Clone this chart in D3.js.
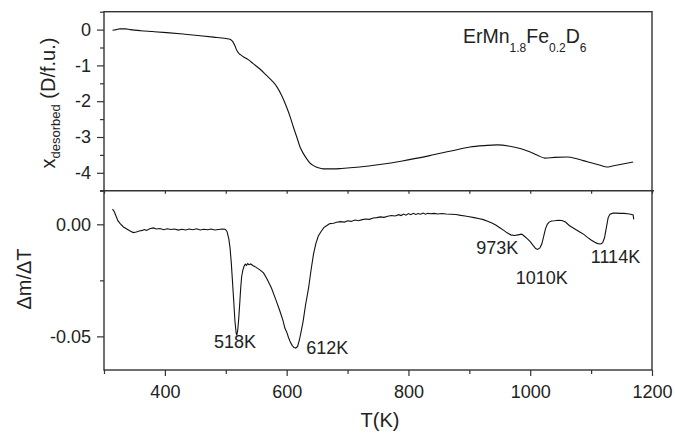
<!DOCTYPE html>
<html>
<head>
<meta charset="utf-8">
<script src="https://cdn.jsdelivr.net/npm/d3@7"></script>
<style>
  body { margin: 0; background: #fff; }
  svg { font-family: "Liberation Sans", Arial, sans-serif; }
</style>
</head>
<body>
<div id="chart"></div>
<script>
// temperature (K) and desorbed deuterium x (D/f.u.) for the upper TG panel
var tgT = [314, 320, 326, 335, 343, 360, 380, 403, 430, 458, 480, 500, 507, 510, 512, 515, 518, 521, 524, 530,
  537, 545, 556, 567, 576, 584, 592, 600, 606, 611, 617, 622, 627, 633, 638, 644, 652, 660, 675, 690,
  720, 753, 790, 835, 870, 901, 925, 945, 967, 985, 1000, 1012, 1024, 1040, 1060, 1075, 1087, 1100, 1115, 1126,
  1135, 1150, 1169];
var tgX = [-0.02, 0.0, 0.02, 0.02, 0.0, -0.03, -0.055, -0.085, -0.125, -0.17, -0.21, -0.25, -0.27, -0.31, -0.35, -0.45, -0.58, -0.66, -0.70, -0.77,
  -0.84, -0.95, -1.10, -1.28, -1.43, -1.60, -1.85, -2.17, -2.45, -2.72, -3.02, -3.28, -3.45, -3.61, -3.72, -3.80, -3.86, -3.89, -3.89, -3.88,
  -3.84, -3.77, -3.67, -3.52, -3.39, -3.28, -3.24, -3.22, -3.26, -3.33, -3.42, -3.51, -3.59, -3.57, -3.56, -3.60, -3.66, -3.72, -3.79, -3.84,
  -3.81, -3.76, -3.70];

// temperature (K) and dm/dT for the lower DTG panel
var dtgT = [314, 317, 320, 323, 327, 332, 338, 343, 348, 353, 358, 363, 366, 370, 375, 381, 386, 392, 398, 404,
  410, 416, 422, 428, 434, 440, 446, 452, 458, 464, 470, 476, 482, 488, 494, 499, 502, 505, 507, 509,
  511, 513, 515, 517, 518, 519.5, 521, 523, 524.5, 526, 528, 530, 532, 534, 536, 538, 541, 545, 550, 556,
  562, 568, 575, 582, 589, 594, 597, 600, 603, 606, 609, 612, 615, 618, 621, 624, 627, 631, 636, 640,
  644, 648, 652, 656, 661, 666, 671, 677, 682, 688, 695, 700, 706, 712, 718, 724, 730, 736, 742, 748,
  754, 760, 766, 772, 778, 784, 788, 792, 796, 800, 804, 808, 812, 816, 820, 824, 828, 832, 836, 842,
  848, 855, 862, 870, 878, 886, 893, 900, 908, 915, 923, 930, 937, 944, 950, 956, 962, 968, 974, 980,
  986, 990, 995, 1000, 1005, 1009, 1012, 1016, 1019, 1022, 1025, 1028, 1031, 1035, 1040, 1046, 1052, 1058, 1064, 1070,
  1076, 1082, 1088, 1094, 1100, 1106, 1111, 1116, 1119, 1122, 1124, 1126, 1128, 1131, 1136, 1142, 1148, 1154, 1160, 1165,
  1169, 1170];
var dtgV = [0.0068, 0.0056, 0.0035, 0.0015, 0.0002, -0.0012, -0.0022, -0.0030, -0.0037, -0.0034, -0.0030, -0.0027, -0.0023, -0.0027, -0.0020, -0.0016, -0.0021, -0.0019, -0.0024, -0.0020,
  -0.0023, -0.0021, -0.0026, -0.0022, -0.0025, -0.0021, -0.0024, -0.0020, -0.0025, -0.0022, -0.0024, -0.0021, -0.0025, -0.0023, -0.0021, -0.0022, -0.0032, -0.0065, -0.0105, -0.0170,
  -0.0254, -0.0340, -0.0430, -0.0485, -0.0496, -0.0475, -0.0430, -0.0350, -0.0284, -0.0235, -0.0205, -0.0187, -0.0178, -0.0183, -0.0175, -0.0180, -0.0177, -0.0185, -0.0192, -0.0203,
  -0.0217, -0.0245, -0.0284, -0.0335, -0.0388, -0.0430, -0.0463, -0.0480, -0.0505, -0.0525, -0.0540, -0.0550, -0.0552, -0.0545, -0.0515, -0.0475, -0.0433, -0.0360, -0.0284, -0.0205,
  -0.0134, -0.0085, -0.0052, -0.0034, -0.0015, -0.0005, 0.0003, 0.0005, 0.0009, 0.0012, 0.0010, 0.0016, 0.0013, 0.0019, 0.0016, 0.0021, 0.0024, 0.0022, 0.0028, 0.0030,
  0.0033, 0.0031, 0.0036, 0.0039, 0.0037, 0.0043, 0.0039, 0.0046, 0.0041, 0.0048, 0.0043, 0.0049, 0.0044, 0.0048, 0.0045, 0.0050, 0.0045, 0.0049, 0.0047, 0.0049,
  0.0046, 0.0048, 0.0046, 0.0045, 0.0044, 0.0040, 0.0037, 0.0034, 0.0030, 0.0026, 0.0021, 0.0014, 0.0006, -0.0004, -0.0015, -0.0026, -0.0038, -0.0047, -0.0050, -0.0047,
  -0.0044, -0.0052, -0.0064, -0.0077, -0.0095, -0.0108, -0.0112, -0.0105, -0.0088, -0.0055, -0.0020, 0.0000, 0.0010, 0.0015, 0.0016, 0.0018, 0.0017, 0.0010, -0.0005, -0.0015,
  -0.0025, -0.0035, -0.0045, -0.0058, -0.0070, -0.0080, -0.0086, -0.0088, -0.0082, -0.0060, -0.0030, 0.0000, 0.0030, 0.0045, 0.0050, 0.0050, 0.0049, 0.0049, 0.0047, 0.0045,
  0.0042, 0.0022];

// peak labels: text, temperature and value where the label sits
var peakText = ["518K", "612K", "973K", "1010K", "1114K"];
var peakT = [515, 632, 946, 1019, 1140];
var peakV = [-0.0554, -0.058, -0.0132, -0.0266, -0.0172];

var xTicks = [400, 600, 800, 1000, 1200];
var xMinor = [300, 500, 700, 900, 1100];
var tgTicks = [0, -1, -2, -3, -4];
var tgMinor = [0.5, -0.5, -1.5, -2.5, -3.5, -4.5];
var dtgTicks = [0, -0.05];
var dtgMinor = [-0.025];

var width = 675, height = 433;
var padL = 104, padR = 652, padT = 11.7, padM = 190.7, padB = 370;

var svg = d3.select("#chart").append("svg")
  .attr("width", width)
  .attr("height", height);

var x = d3.scaleLinear().domain([300, 1200]).range([padL, padR]);
var yTop = d3.scaleLinear().domain([-4.5, 0.5]).range([padM, padT]);
var yBot = d3.scaleLinear().domain([-0.065, 0.015]).range([padB, padM]);

var axisColor = "#333";

// plain hyphen minus like the original
function fmt(spec) {
  var f = d3.format(spec);
  return function(d) { return f(d).replace("\u2212", "-"); };
}

// minor ticks first, then major axes
function minorAxis(axis, sel) {
  sel.call(axis).call(function(g) {
    g.select(".domain").remove();
    g.selectAll("text").remove();
    g.selectAll("line").attr("stroke", axisColor).attr("stroke-width", 1.2);
  });
}
function styleAxis(g) {
  g.select(".domain").remove();
  g.selectAll("line").attr("stroke", axisColor).attr("stroke-width", 1.2);
  g.selectAll("text").attr("font-size", "18px").attr("fill", "#222")
    .attr("font-family", "'Liberation Sans', Arial, sans-serif");
}

// bottom x axis
minorAxis(d3.axisBottom(x).tickValues(xMinor).tickSize(4).tickSizeOuter(0),
  svg.append("g").attr("transform", "translate(0," + padB + ")"));
svg.append("g")
  .attr("transform", "translate(0," + padB + ")")
  .call(d3.axisBottom(x).tickValues(xTicks).tickSize(6).tickPadding(9).tickSizeOuter(0)
    .tickFormat(fmt("d")))
  .call(styleAxis);

// small ticks under the divider
minorAxis(d3.axisBottom(x).tickValues(xTicks.concat(xMinor)).tickSize(3).tickSizeOuter(0),
  svg.append("g").attr("transform", "translate(0," + padM + ")"));

// top y axis
minorAxis(d3.axisLeft(yTop).tickValues(tgMinor).tickSize(4).tickSizeOuter(0),
  svg.append("g").attr("transform", "translate(" + padL + ",0)"));
svg.append("g")
  .attr("transform", "translate(" + padL + ",0)")
  .call(d3.axisLeft(yTop).tickValues(tgTicks).tickSize(7).tickPadding(6).tickSizeOuter(0)
    .tickFormat(fmt("d")))
  .call(styleAxis);

// bottom y axis
minorAxis(d3.axisLeft(yBot).tickValues(dtgMinor).tickSize(4).tickSizeOuter(0),
  svg.append("g").attr("transform", "translate(" + padL + ",0)"));
svg.append("g")
  .attr("transform", "translate(" + padL + ",0)")
  .call(d3.axisLeft(yBot).tickValues(dtgTicks).tickSize(7).tickPadding(6).tickSizeOuter(0)
    .tickFormat(fmt(".2f")))
  .call(styleAxis);

// frames
svg.append("rect")
  .attr("x", padL).attr("y", padT)
  .attr("width", padR - padL).attr("height", padB - padT)
  .attr("fill", "none").attr("stroke", axisColor).attr("stroke-width", 1.4);
svg.append("line")
  .attr("x1", padL - 4).attr("x2", padR + 2)
  .attr("y1", padM).attr("y2", padM)
  .attr("stroke", axisColor).attr("stroke-width", 1.4);

// curves
var tgData = tgT.map(function(t, i) { return [t, tgX[i]]; });
var dtgData = dtgT.map(function(t, i) { return [t, dtgV[i]]; });

svg.append("path")
  .datum(tgData)
  .attr("fill", "none")
  .attr("stroke", "#111")
  .attr("stroke-width", 1.1)
  .attr("d", d3.line()
    .curve(d3.curveMonotoneX)
    .x(function(d) { return x(d[0]); })
    .y(function(d) { return yTop(d[1]); }));

svg.append("path")
  .datum(dtgData)
  .attr("fill", "none")
  .attr("stroke", "#111")
  .attr("stroke-width", 1.1)
  .attr("d", d3.line()
    .x(function(d) { return x(d[0]); })
    .y(function(d) { return yBot(d[1]); }));

// peak labels
svg.selectAll(".peak")
  .data(peakText)
  .enter()
  .append("text")
    .attr("class", "peak")
    .attr("x", function(d, i) { return x(peakT[i]); })
    .attr("y", function(d, i) { return yBot(peakV[i]); })
    .attr("text-anchor", function(d, i) { return i == 1 ? "start" : "middle"; })
    .attr("font-size", "18px")
    .attr("fill", "#222")
    .text(function(d) { return d; });

// compound label
var lg = svg.append("text")
  .attr("x", 463).attr("y", 43)
  .attr("font-size", "19.5px")
  .attr("fill", "#222");
lg.append("tspan").text("ErMn");
lg.append("tspan").attr("dy", 8.5).attr("font-size", "12px").text("1.8");
lg.append("tspan").attr("dy", -8.5).text("Fe");
lg.append("tspan").attr("dy", 8.5).attr("font-size", "12px").text("0.2");
lg.append("tspan").attr("dy", -8.5).text("D");
lg.append("tspan").attr("dy", 8.5).attr("font-size", "12px").text("6");

// axis titles
svg.append("text")
  .attr("x", 380).attr("y", 427)
  .attr("text-anchor", "middle")
  .attr("font-size", "20px")
  .attr("fill", "#222")
  .text("T(K)");

var yt = svg.append("text")
  .attr("transform", "translate(55,103) rotate(-90)")
  .attr("text-anchor", "middle")
  .attr("font-size", "20px")
  .attr("fill", "#222");
yt.append("tspan").text("x");
yt.append("tspan").attr("dy", 5).attr("font-size", "13px").text("desorbed");
yt.append("tspan").attr("dy", -5).text(" (D/f.u.)");

svg.append("text")
  .attr("transform", "translate(31,279) rotate(-90)")
  .attr("text-anchor", "middle")
  .attr("font-size", "20px")
  .attr("fill", "#222")
  .text("Δm/ΔT");
</script>
</body>
</html>
